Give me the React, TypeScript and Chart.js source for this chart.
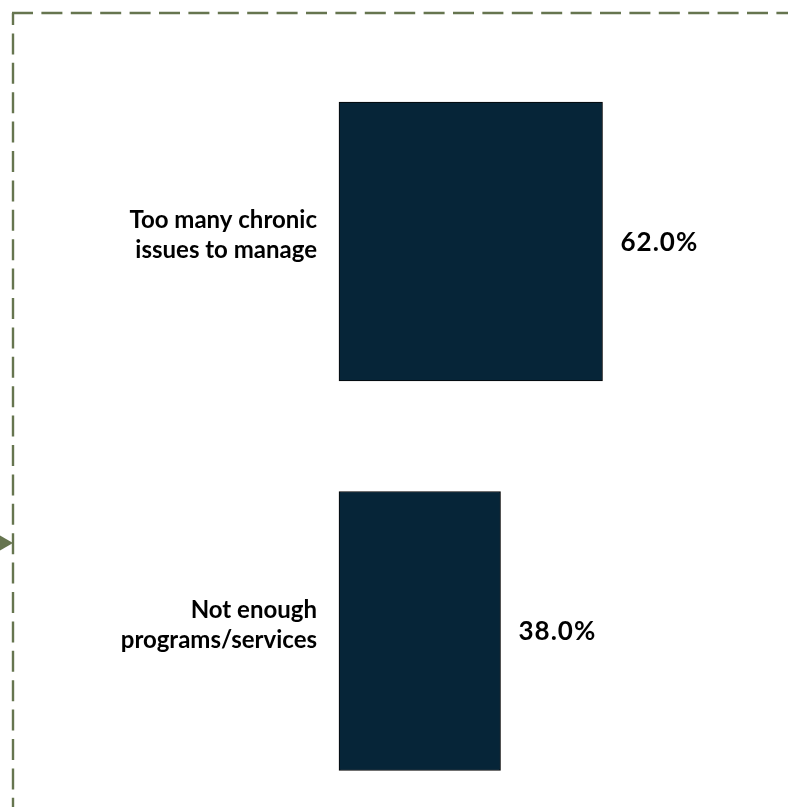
import React, { useEffect, useRef } from "react";
import { Chart, registerables } from "chart.js";

Chart.register(...registerables);

const categories: string[][] = [
  ["Too many chronic", "issues to manage"],
  ["Not enough", "programs/services"],
];
const values: number[] = [62.0, 38.0];
const xMin = 0;
const xMax = 100;

const FONT_FAMILY = "Lato, 'Noto Sans', sans-serif";
const FRAME_COLOR = "#66754f";
const BAR_COLOR = "#062538";

const framePlugin = {
  id: "frame",
  afterDraw(chart: any) {
    const ctx = chart.ctx as CanvasRenderingContext2D;
    ctx.save();
    ctx.strokeStyle = FRAME_COLOR;
    ctx.lineWidth = 2.4;
    ctx.lineCap = "butt";
    ctx.setLineDash([21, 8.4]);
    // top edge
    ctx.lineDashOffset = 0;
    ctx.beginPath();
    ctx.moveTo(12, 13);
    ctx.lineTo(820, 13);
    ctx.stroke();
    // left edge
    ctx.lineDashOffset = 9;
    ctx.beginPath();
    ctx.moveTo(13, 13);
    ctx.lineTo(13, 840);
    ctx.stroke();
    // arrow head
    ctx.setLineDash([]);
    ctx.fillStyle = FRAME_COLOR;
    ctx.beginPath();
    ctx.moveTo(-1, 535);
    ctx.lineTo(13, 543);
    ctx.lineTo(-1, 551);
    ctx.closePath();
    ctx.fill();
    ctx.restore();
  },
};

const valueLabelPlugin = {
  id: "valueLabels",
  afterDatasetsDraw(chart: any) {
    const ctx = chart.ctx as CanvasRenderingContext2D;
    const meta = chart.getDatasetMeta(0);
    ctx.save();
    ctx.fillStyle = "#000";
    ctx.font = `bold 26px ${FONT_FAMILY}`;
    (ctx as any).letterSpacing = "1px";
    ctx.textAlign = "left";
    ctx.textBaseline = "middle";
    meta.data.forEach((el: any, i: number) => {
      const v = values[i];
      ctx.fillText(v.toFixed(1) + "%", el.x + 18, el.y + 1);
    });
    ctx.restore();
  },
};

export default function App() {
  const ref = useRef<HTMLCanvasElement | null>(null);
  useEffect(() => {
    if (!ref.current) return;
    const chart = new Chart(ref.current, {
      type: "bar",
      data: {
        labels: categories,
        datasets: [
          {
            data: values,
            backgroundColor: BAR_COLOR,
            borderColor: "#050505",
            borderWidth: 1,
            borderSkipped: false,
            barThickness: 279,
            clip: false as any,
          },
        ],
      },
      plugins: [framePlugin, valueLabelPlugin],
      options: {
        indexAxis: "y",
        responsive: false,
        animation: false,
        events: [],
        layout: { padding: { left: 0, right: 24, top: 241.5, bottom: 176 } },
        plugins: {
          legend: { display: false },
          tooltip: { enabled: false },
          title: { display: false },
        },
        scales: {
          x: {
            display: false,
            min: xMin,
            max: xMax,
            grid: { display: false },
          },
          y: {
            offset: false,
            grid: { display: false, drawTicks: false },
            border: { display: false },
            afterFit: (s: any) => {
              s.width = 339;
            },
            ticks: {
              color: "#000",
              padding: 22,
              labelOffset: -6,
              font: { family: FONT_FAMILY, size: 24, weight: "bold", lineHeight: "30px" as any },
            },
          },
        },
      },
    });
    return () => chart.destroy();
  }, []);
  return (
    <div style={{ position: "absolute", left: 0, top: 0, width: 788, height: 807, background: "#fff" }}>
      <canvas ref={ref} width={788} height={807} style={{ display: "block" }} />
    </div>
  );
}
